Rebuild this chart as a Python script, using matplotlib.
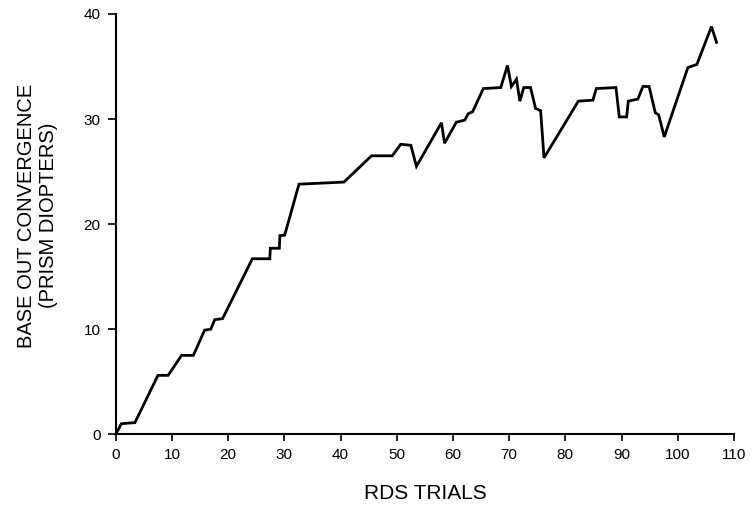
import matplotlib
matplotlib.use("Agg")
import matplotlib.pyplot as plt

trials = [0, 1.0, 3.4, 7.5, 9.3, 11.7, 13.8, 15.8, 16.9, 17.6, 19.0, 24.3, 27.4, 27.5,
          29.1, 29.2, 30.05, 32.6, 40.6, 45.5, 49.2, 50.7, 52.5, 53.5, 57.95, 58.5,
          60.6, 62.1, 62.7, 63.5, 65.4, 68.5, 69.7, 70.4, 71.3, 71.9, 72.6, 73.8,
          74.7, 75.6, 76.2, 82.3, 84.9, 85.5, 89.0, 89.6, 90.9, 91.2, 92.9, 93.8,
          94.9, 96.0, 96.6, 97.6, 101.8, 103.4, 106.0, 106.9]
convergence = [0, 1.0, 1.1, 5.6, 5.6, 7.5, 7.5, 9.9, 10.0, 10.9, 11.0, 16.7, 16.7, 17.7,
               17.7, 18.9, 18.95, 23.8, 24.0, 26.5, 26.5, 27.6, 27.5, 25.5, 29.65, 27.7,
               29.7, 29.9, 30.5, 30.7, 32.9, 33.0, 35.1, 33.1, 33.8, 31.7, 33.0, 33.0,
               31.0, 30.8, 26.3, 31.7, 31.8, 32.9, 33.0, 30.2, 30.2, 31.7, 31.9, 33.1,
               33.1, 30.6, 30.4, 28.3, 34.9, 35.2, 38.8, 37.3]

xticks = list(range(0, 111, 10))
yticks = [0, 10, 20, 30, 40]

plt.rcParams['font.family'] = ['Liberation Sans', 'DejaVu Sans']

fig = plt.figure(figsize=(7.52, 5.09), dpi=100)
ax = fig.add_axes([0.154, 0.147, 0.822, 0.8255])

ax.plot(trials, convergence, color='black', linewidth=2.0, clip_on=False,
        solid_joinstyle='miter')

ax.set_xlim(0, 110)
ax.set_ylim(0, 40)
ax.set_xticks(xticks)
ax.set_yticks(yticks)

for s in ['top', 'right']:
    ax.spines[s].set_visible(False)
for s in ['left', 'bottom']:
    ax.spines[s].set_linewidth(1.5)
    ax.spines[s].set_color('black')

ax.tick_params(axis='x', direction='out', length=5, width=1.2, pad=5, labelsize=11)
ax.tick_params(axis='y', direction='out', length=6, width=1.2, pad=5, labelsize=11)

ax.set_xlabel('RDS TRIALS', fontsize=15, labelpad=16)
ax.set_ylabel('BASE OUT CONVERGENCE\n(PRISM DIOPTERS)', fontsize=14.5,
              linespacing=1.15)
ax.yaxis.set_label_coords(-0.094, 0.52)

fig.savefig('out.png', dpi=100)
